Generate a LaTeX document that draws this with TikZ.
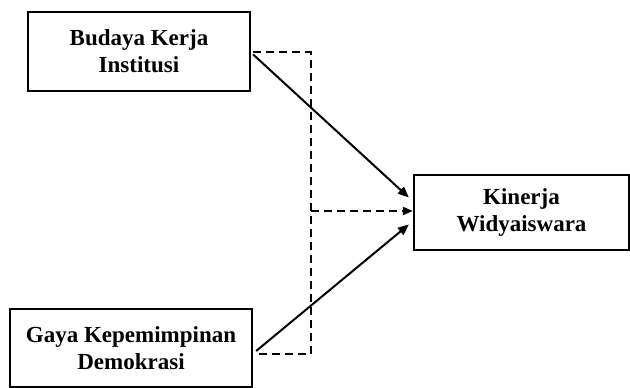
\documentclass[tikz,border=0pt]{standalone}
\usepackage{fontspec}
\setmainfont{Liberation Serif}
\usetikzlibrary{arrows.meta}
\begin{document}
\begin{tikzpicture}[x=1pt,y=1pt,
  varbox/.style={draw=black, line width=2.3pt, minimum width=#1, inner sep=0pt, align=center,
    font=\fontsize{23}{27}\selectfont\bfseries},
  solidarrow/.style={line width=2pt, -{Triangle[length=11pt,width=9pt]}},
  dasharrow/.style={line width=2pt, dash pattern=on 8pt off 5pt, -{Triangle[length=10pt,width=8pt]}},
  dashline/.style={line width=2pt, dash pattern=on 8pt off 5pt}]
\useasboundingbox (0,0) rectangle (630,388);
\node[varbox=222pt, minimum height=79pt] (A) at (139,336.5) {Budaya Kerja\\Institusi};
\node[varbox=215pt, minimum height=75pt] (B) at (521.5,175.5) {Kinerja\\Widyaiswara};
\node[varbox=242pt, minimum height=78pt] (C) at (131,40) {Gaya Kepemimpinan\\Demokrasi};
\coordinate (ta) at (311,335.5);
\coordinate (tc) at (311,34);
\coordinate (tm) at (311,177);
\draw[dashline] ([xshift=2pt,yshift=-1pt]A.east) -- (ta) -- (tc) -- ([xshift=4pt]C.east |- tc);
\draw[dasharrow] (tm) -- ([yshift=1.5pt]B.west);
\draw[solidarrow] ([xshift=2pt,yshift=-3pt]A.east) -- ([xshift=-4pt,yshift=15pt]B.west);
\draw[solidarrow] ([xshift=3pt,yshift=-3pt]C.east) -- ([xshift=-4pt,yshift=-12pt]B.west);
\end{tikzpicture}
\end{document}
